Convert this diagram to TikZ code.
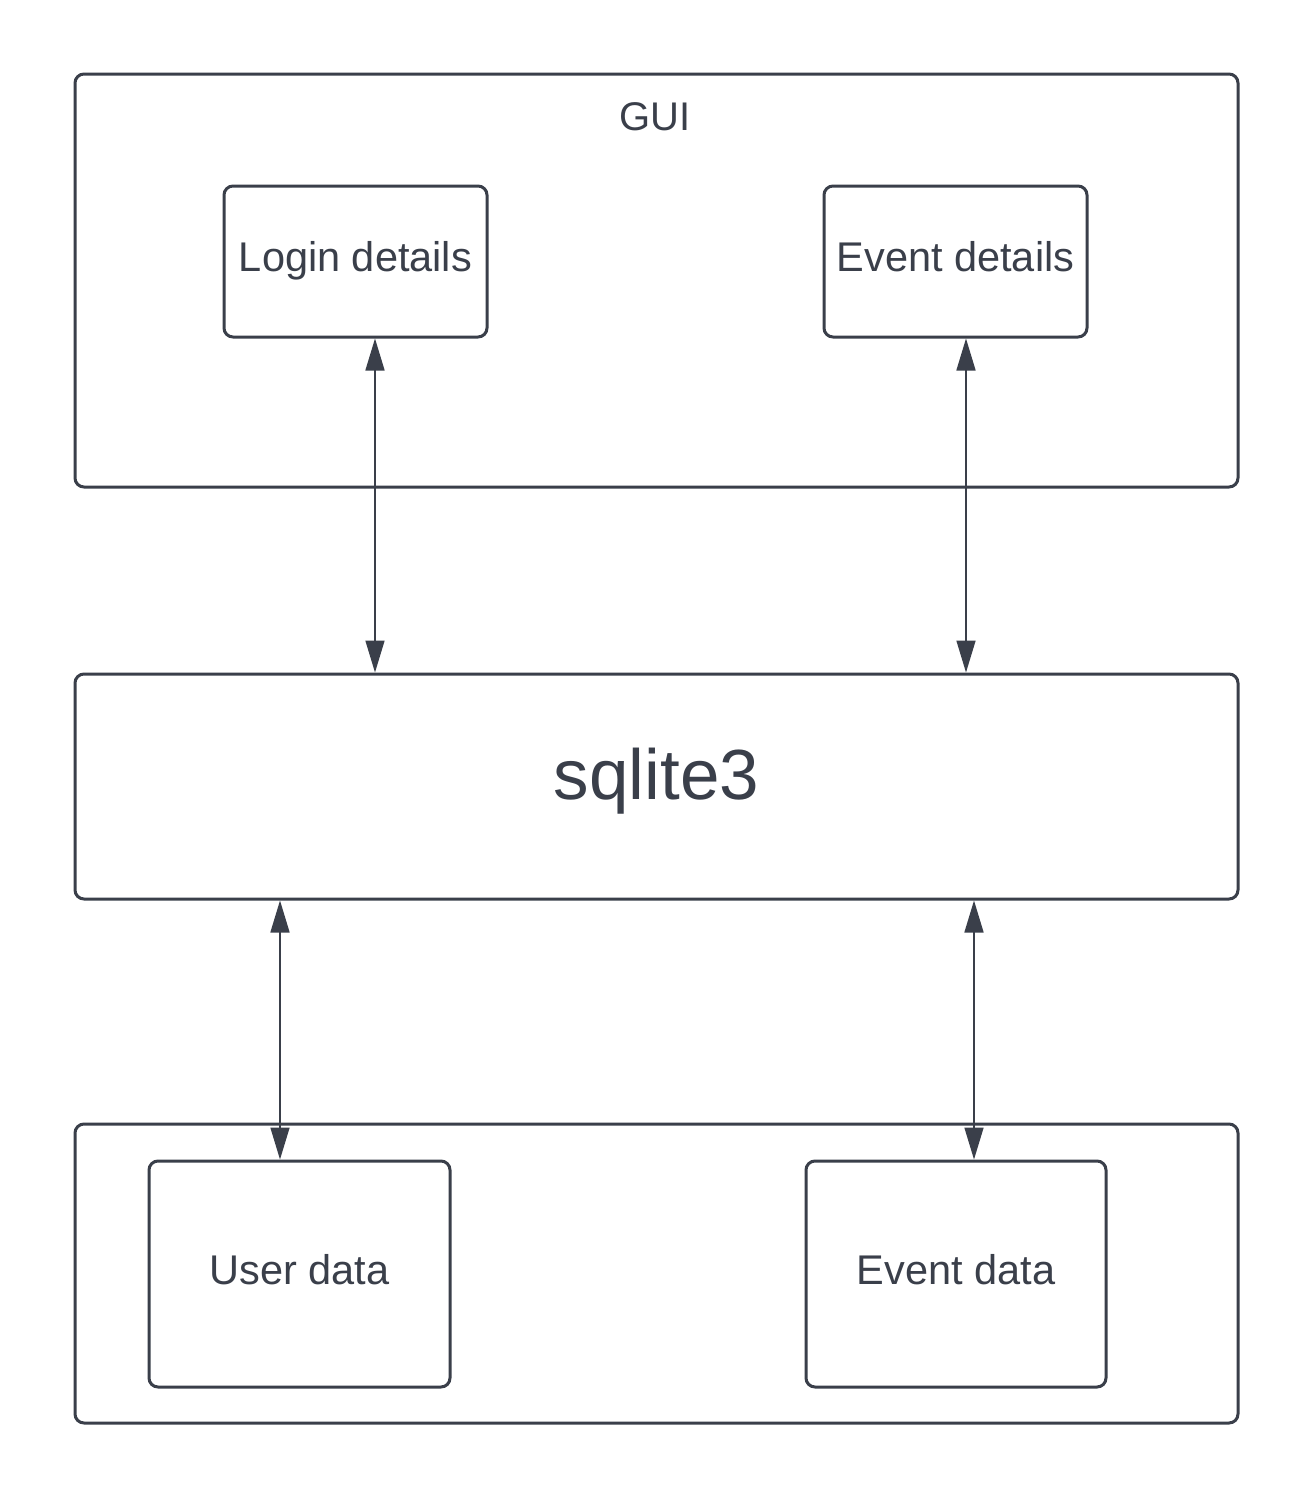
\documentclass[tikz,border=0pt]{standalone}
\usepackage{fontspec}
\setmainfont{Liberation Sans}
\usetikzlibrary{arrows.meta,calc}
\definecolor{ink}{HTML}{3A3F4A}
\begin{document}
\begin{tikzpicture}[x=1pt,y=-1pt,
  box/.style={draw=ink, line width=3pt, rounded corners=9pt, inner sep=0pt, text=ink, font=\fontsize{41.5}{48}\selectfont, text height=24pt, text depth=3.4pt},
  link/.style={draw=ink, line width=1.6pt, {Triangle[length=32pt,width=19pt]}-{Triangle[length=32pt,width=19pt]}}]
\useasboundingbox (0,0) rectangle (1313,1500);
\fill[white] (0,0) rectangle (1313,1500);
% containers
\node[box, minimum width=1163pt, minimum height=413pt] (gui) at (656.5,280.5) {};
\node[text=ink, font=\fontsize{40}{46}\selectfont] (guilabel) at (655,117) {GUI};
\node[box, minimum width=263pt, minimum height=151pt] (login) at (355.5,261.5) {Login details};
\node[box, minimum width=263pt, minimum height=151pt] (evdet) at (955.5,261.5) {Event details};
\node[box, minimum width=1163pt, minimum height=225pt, font=\fontsize{71}{80}\selectfont, text height=27.2pt, text depth=1.4pt] (sql) at (656.5,786.5) {sqlite3};
\node[box, minimum width=1163pt, minimum height=299pt] (store) at (656.5,1273.5) {};
\node[box, minimum width=301pt, minimum height=226pt] (user) at (299.5,1274) {User data};
\node[box, minimum width=300pt, minimum height=226pt] (evdata) at (956,1274) {Event data};
% connectors
\draw[link] ([xshift=19.5pt]login.south) -- ([xshift=19.5pt]login.south |- sql.north);
\draw[link] ([xshift=10.5pt]evdet.south) -- ([xshift=10.5pt]evdet.south |- sql.north);
\draw[link] ([xshift=-19.5pt]user.north |- sql.south) -- ([xshift=-19.5pt]user.north);
\draw[link] ([xshift=18pt]evdata.north |- sql.south) -- ([xshift=18pt]evdata.north);
\end{tikzpicture}
\end{document}
